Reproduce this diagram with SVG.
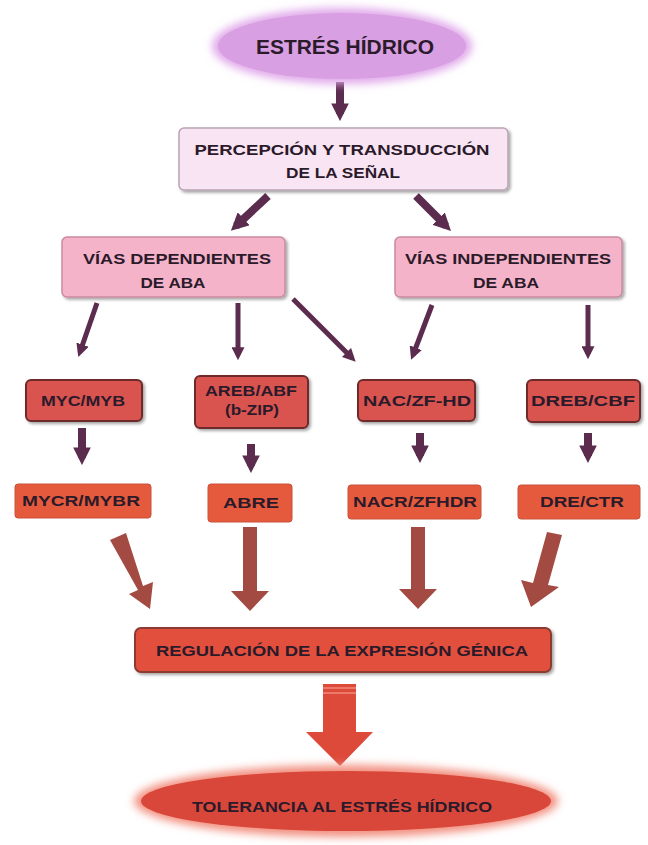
<svg xmlns="http://www.w3.org/2000/svg" width="648" height="845" viewBox="0 0 648 845">
<style>
text{font-family:"Liberation Sans",Arial,sans-serif;font-weight:bold;text-anchor:middle;fill:#2b1a2a;}
.t1{font-size:20px}
.t2{font-size:15.5px}
.t3{font-size:14px}
.pale{fill:#f9e4f3;stroke:#b8a4b4;stroke-width:1.5}
.pink{fill:#f5b3c9;stroke:#c98a9f;stroke-width:1.5}
.red{fill:#d9534f;stroke:#6e2a2a;stroke-width:2}
.orange{fill:#e55a3c;stroke:#c8503a;stroke-width:1}
.thin{stroke:#5b2c4e;stroke-width:5;fill:none;marker-end:url(#mh)}
.thick{stroke:#5b2c4e;stroke-width:8;fill:none;marker-end:url(#mh2)}
.brown{fill:#a34a42}
</style>
<defs>
<marker id="mh" viewBox="0 0 10 10" refX="6" refY="5" markerWidth="2.6" markerHeight="2.6" orient="auto" markerUnits="strokeWidth">
<path d="M0,0 L10,5 L0,10 z" fill="#5b2c4e"/>
</marker>
<marker id="mh2" viewBox="0 0 10 10" refX="6" refY="5" markerWidth="2.2" markerHeight="2.2" orient="auto" markerUnits="strokeWidth">
<path d="M0,0 L10,5 L0,10 z" fill="#5b2c4e"/>
</marker>
<filter id="sh" x="-10%" y="-10%" width="120%" height="130%">
<feDropShadow dx="2" dy="2" stdDeviation="1.5" flood-color="#000" flood-opacity="0.35"/>
</filter>
<filter id="glow" x="-20%" y="-40%" width="140%" height="180%">
<feGaussianBlur stdDeviation="4"/>
</filter>
</defs>

<g id="connectors">
<path class="thick" d="M340,82 L340,114"/>
<path class="thick" d="M268,196 L236,226"/>
<path class="thick" d="M416,196 L446,226"/>
<path class="thin" d="M97,303 L80,352"/>
<path class="thin" d="M238,303 L238,355"/>
<path class="thin" d="M293,299 L352,358"/>
<path class="thin" d="M432,305 L413,355"/>
<path class="thin" d="M588,305 L588,354"/>
<path class="thick" d="M82,428 L82,458"/>
<path class="thick" d="M251,444 L251,466"/>
<path class="thick" d="M420,433 L420,456"/>
<path class="thick" d="M588,433 L588,456"/>
<polygon class="brown" points="110,540 126,533 143,586 153,582 150,609 129,594 138,590"/>
<polygon class="brown" points="243,527 257,527 257,591 269,591 250,611 231,591 243,591"/>
<polygon class="brown" points="411,527 425,527 425,589 437,589 418,609 399,589 411,589"/>
<polygon class="brown" points="547,532 562,535 548,585 559,587 531,607 521,580 533,583"/>
<polygon fill="#dd4a3a" points="323,684 356,684 356,732 373,732 340,766 306,732 323,732"/>
<line x1="323" y1="688" x2="356" y2="688" stroke="#f08a7a" stroke-width="1.5"/>
<line x1="323" y1="693" x2="356" y2="693" stroke="#f08a7a" stroke-width="1.5"/>
</g>

<g id="n-estres">
<ellipse cx="342" cy="46" rx="130" ry="38" fill="#e0a8ea" filter="url(#glow)"/>
<ellipse cx="342" cy="46" rx="124" ry="33" fill="#d99fe3"/>
<text class="t1" x="345" y="54" textLength="178" lengthAdjust="spacingAndGlyphs">ESTRÉS HÍDRICO</text>
</g>

<g id="n-percepcion">
<rect class="pale" x="179" y="128" width="329" height="62" rx="5" filter="url(#sh)"/>
<text class="t2" x="342" y="155" textLength="295" lengthAdjust="spacingAndGlyphs">PERCEPCIÓN  Y TRANSDUCCIÓN</text>
<text class="t2" x="343" y="178" textLength="114" lengthAdjust="spacingAndGlyphs">DE LA SEÑAL</text>
</g>

<g id="n-dependientes">
<rect class="pink" x="62" y="237" width="223" height="60" rx="5" filter="url(#sh)"/>
<text class="t2" x="177" y="264" textLength="188" lengthAdjust="spacingAndGlyphs">VÍAS DEPENDIENTES</text>
<text class="t2" x="173" y="288" textLength="65" lengthAdjust="spacingAndGlyphs">DE ABA</text>
</g>

<g id="n-independientes">
<rect class="pink" x="395" y="237" width="227" height="60" rx="5" filter="url(#sh)"/>
<text class="t2" x="508" y="264" textLength="206" lengthAdjust="spacingAndGlyphs">VÍAS INDEPENDIENTES</text>
<text class="t2" x="506" y="288" textLength="66" lengthAdjust="spacingAndGlyphs">DE ABA</text>
</g>

<g id="n-myc">
<rect class="red" x="26" y="380" width="116" height="41" rx="5" filter="url(#sh)"/>
<text class="t3" x="83" y="406" textLength="84" lengthAdjust="spacingAndGlyphs">MYC/MYB</text>
</g>

<g id="n-areb">
<rect class="red" x="195" y="376" width="113" height="52" rx="5" filter="url(#sh)"/>
<text class="t3" x="251" y="396" textLength="92" lengthAdjust="spacingAndGlyphs">AREB/ABF</text>
<text class="t3" x="252" y="415" textLength="54" lengthAdjust="spacingAndGlyphs">(b-ZIP)</text>
</g>

<g id="n-nac">
<rect class="red" x="358" y="380" width="117" height="41" rx="5" filter="url(#sh)"/>
<text class="t3" x="417" y="406" textLength="108" lengthAdjust="spacingAndGlyphs">NAC/ZF-HD</text>
</g>

<g id="n-dreb">
<rect class="red" x="527" y="380" width="113" height="42" rx="5" filter="url(#sh)"/>
<text class="t3" x="583" y="406" textLength="104" lengthAdjust="spacingAndGlyphs">DREB/CBF</text>
</g>

<g id="n-mycr">
<rect class="orange" x="15" y="484" width="136" height="34" rx="3"/>
<text class="t3" x="81" y="506" textLength="118" lengthAdjust="spacingAndGlyphs">MYCR/MYBR</text>
</g>

<g id="n-abre">
<rect class="orange" x="208" y="484" width="84" height="38" rx="3"/>
<text class="t3" x="251" y="508" textLength="56" lengthAdjust="spacingAndGlyphs">ABRE</text>
</g>

<g id="n-nacr">
<rect class="orange" x="348" y="485" width="133" height="34" rx="3"/>
<text class="t3" x="415" y="507" textLength="124" lengthAdjust="spacingAndGlyphs">NACR/ZFHDR</text>
</g>

<g id="n-dre">
<rect class="orange" x="518" y="485" width="122" height="34" rx="3"/>
<text class="t3" x="582" y="507" textLength="84" lengthAdjust="spacingAndGlyphs">DRE/CTR</text>
</g>

<g id="n-regulacion">
<rect x="135" y="628" width="416" height="44" rx="6" fill="#e2503e" stroke="#8a3a32" stroke-width="2" filter="url(#sh)"/>
<text class="t3" x="342" y="656" textLength="372" lengthAdjust="spacingAndGlyphs">REGULACIÓN DE LA EXPRESIÓN GÉNICA</text>
</g>

<g id="n-tolerancia">
<ellipse cx="346" cy="801" rx="212" ry="36" fill="#f29080" filter="url(#glow)"/>
<ellipse cx="346" cy="801" rx="205" ry="30" fill="#d9473a"/>
<text class="t3" x="342" y="812" textLength="300" lengthAdjust="spacingAndGlyphs">TOLERANCIA AL ESTRÉS HÍDRICO</text>
</g>
</svg>
